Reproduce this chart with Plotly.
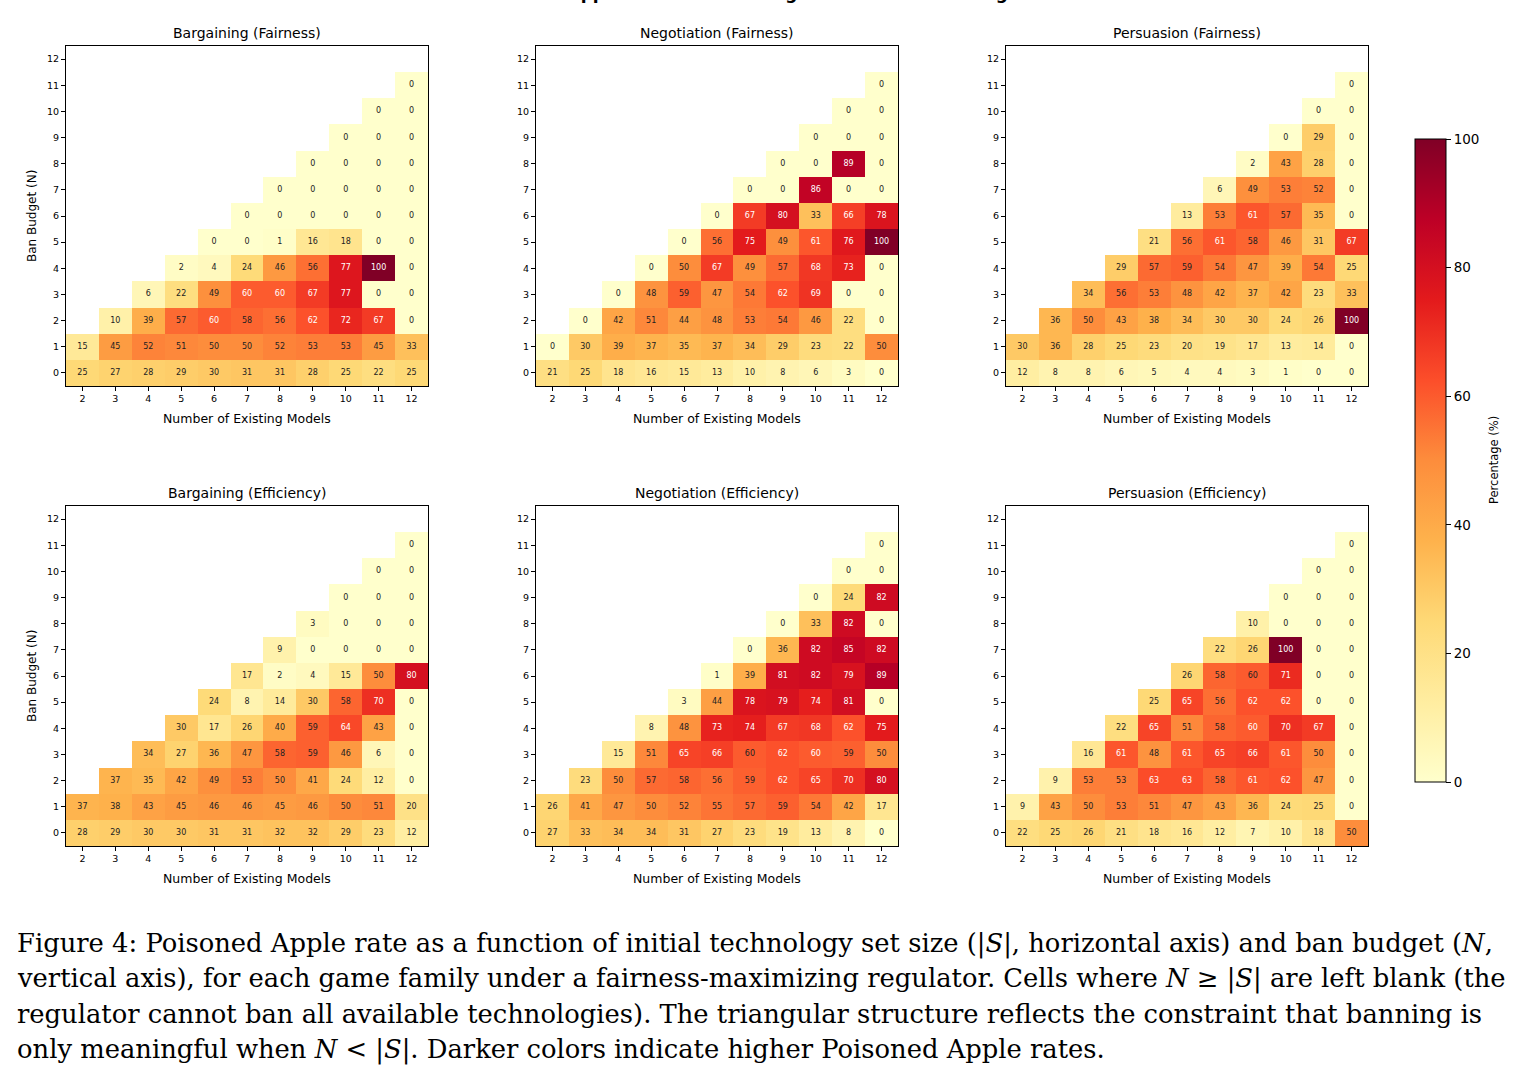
import plotly.graph_objects as go

W, H = 1527, 1079

# ---------------- data ----------------
X_MODELS = list(range(2, 13))      # Number of Existing Models
Y_BUDGET = list(range(0, 13))      # Ban Budget (N)

# each list = rows N = 0,1,2,...; a row N starts at |S| = max(2, N+1)
BARG_FAIR = [
    [25, 27, 28, 29, 30, 31, 31, 28, 25, 22, 25],
    [15, 45, 52, 51, 50, 50, 52, 53, 53, 45, 33],
    [10, 39, 57, 60, 58, 56, 62, 72, 67, 0],
    [6, 22, 49, 60, 60, 67, 77, 0, 0],
    [2, 4, 24, 46, 56, 77, 100, 0],
    [0, 0, 1, 16, 18, 0, 0],
    [0, 0, 0, 0, 0, 0],
    [0, 0, 0, 0, 0],
    [0, 0, 0, 0],
    [0, 0, 0],
    [0, 0],
    [0],
]
NEGO_FAIR = [
    [21, 25, 18, 16, 15, 13, 10, 8, 6, 3, 0],
    [0, 30, 39, 37, 35, 37, 34, 29, 23, 22, 50],
    [0, 42, 51, 44, 48, 53, 54, 46, 22, 0],
    [0, 48, 59, 47, 54, 62, 69, 0, 0],
    [0, 50, 67, 49, 57, 68, 73, 0],
    [0, 56, 75, 49, 61, 76, 100],
    [0, 67, 80, 33, 66, 78],
    [0, 0, 86, 0, 0],
    [0, 0, 89, 0],
    [0, 0, 0],
    [0, 0],
    [0],
]
PERS_FAIR = [
    [12, 8, 8, 6, 5, 4, 4, 3, 1, 0, 0],
    [30, 36, 28, 25, 23, 20, 19, 17, 13, 14, 0],
    [36, 50, 43, 38, 34, 30, 30, 24, 26, 100],
    [34, 56, 53, 48, 42, 37, 42, 23, 33],
    [29, 57, 59, 54, 47, 39, 54, 25],
    [21, 56, 61, 58, 46, 31, 67],
    [13, 53, 61, 57, 35, 0],
    [6, 49, 53, 52, 0],
    [2, 43, 28, 0],
    [0, 29, 0],
    [0, 0],
    [0],
]
BARG_EFF = [
    [28, 29, 30, 30, 31, 31, 32, 32, 29, 23, 12],
    [37, 38, 43, 45, 46, 46, 45, 46, 50, 51, 20],
    [37, 35, 42, 49, 53, 50, 41, 24, 12, 0],
    [34, 27, 36, 47, 58, 59, 46, 6, 0],
    [30, 17, 26, 40, 59, 64, 43, 0],
    [24, 8, 14, 30, 58, 70, 0],
    [17, 2, 4, 15, 50, 80],
    [9, 0, 0, 0, 0],
    [3, 0, 0, 0],
    [0, 0, 0],
    [0, 0],
    [0],
]
NEGO_EFF = [
    [27, 33, 34, 34, 31, 27, 23, 19, 13, 8, 0],
    [26, 41, 47, 50, 52, 55, 57, 59, 54, 42, 17],
    [23, 50, 57, 58, 56, 59, 62, 65, 70, 80],
    [15, 51, 65, 66, 60, 62, 60, 59, 50],
    [8, 48, 73, 74, 67, 68, 62, 75],
    [3, 44, 78, 79, 74, 81, 0],
    [1, 39, 81, 82, 79, 89],
    [0, 36, 82, 85, 82],
    [0, 33, 82, 0],
    [0, 24, 82],
    [0, 0],
    [0],
]
PERS_EFF = [
    [22, 25, 26, 21, 18, 16, 12, 7, 10, 18, 50],
    [9, 43, 50, 53, 51, 47, 43, 36, 24, 25, 0],
    [9, 53, 53, 63, 63, 58, 61, 62, 47, 0],
    [16, 61, 48, 61, 65, 66, 61, 50, 0],
    [22, 65, 51, 58, 60, 70, 67, 0],
    [25, 65, 56, 62, 62, 0, 0],
    [26, 58, 60, 71, 0, 0],
    [22, 26, 100, 0, 0],
    [10, 0, 0, 0],
    [0, 0, 0],
    [0, 0],
    [0],
]

PANEL_TITLES = ["Bargaining (Fairness)", "Negotiation (Fairness)", "Persuasion (Fairness)",
                "Bargaining (Efficiency)", "Negotiation (Efficiency)", "Persuasion (Efficiency)"]
PANEL_DATA = [BARG_FAIR, NEGO_FAIR, PERS_FAIR, BARG_EFF, NEGO_EFF, PERS_EFF]
# cells showing "60" whose label is dark (underlying value just below 60)
DARK_60 = [[], [], [], [], [(8, 3)], [(9, 6)]]

COLORBAR_TICKS = [0, 20, 40, 60, 80, 100]

YLORRD = [[0.0, "#ffffcc"], [0.125, "#ffeda0"], [0.25, "#fed976"], [0.375, "#feb24c"],
          [0.5, "#fd8d3c"], [0.625, "#fc4e2a"], [0.75, "#e31a1c"], [0.875, "#bd0026"],
          [1.0, "#800026"]]

FONT = "DejaVu Sans"


def to_grid(rows):
    z = [[None] * len(X_MODELS) for _ in Y_BUDGET]
    for n, row in enumerate(rows):
        start = max(2, n + 1)
        for k, v in enumerate(row):
            z[n][start - X_MODELS[0] + k] = v
    return z


fig = go.Figure()
annotations = []

for i, (title, rows) in enumerate(zip(PANEL_TITLES, PANEL_DATA)):
    r, c = divmod(i, 3)
    ax = "" if i == 0 else str(i + 1)
    z = to_grid(rows)
    fig.add_trace(go.Heatmap(
        z=z, x=X_MODELS, y=Y_BUDGET, colorscale=YLORRD, zmin=0, zmax=100,
        showscale=(i == 0), hoverongaps=False,
        xaxis="x" + ax, yaxis="y" + ax,
        colorbar=dict(
            x=1415 / W, xanchor="left", y=1 - 139 / H, yanchor="top",
            len=(782 - 139) / H, lenmode="fraction", thickness=31,
            outlinecolor="black", outlinewidth=1, xpad=0, ypad=0,
            tickvals=COLORBAR_TICKS, ticks="outside", ticklen=5, tickcolor="black",
            tickfont=dict(size=13.5, color="black", family=FONT),
        ),
    ))
    tx, ty, tt, tc = [], [], [], []
    for n in Y_BUDGET:
        for k, xv in enumerate(X_MODELS):
            v = z[n][k]
            if v is None:
                continue
            tx.append(xv)
            ty.append(n)
            tt.append(str(v))
            white = v >= 60 and (xv, n) not in DARK_60[i]
            tc.append("white" if white else "#222222")
    fig.add_trace(go.Scatter(
        x=tx, y=ty, text=tt, mode="text", textposition="middle center",
        textfont=dict(size=8, color=tc, family=FONT),
        hoverinfo="skip", showlegend=False, xaxis="x" + ax, yaxis="y" + ax,
    ))

    x0, x1 = (66 + 470 * c) / W, (428 + 470 * c) / W
    y0, y1 = 1 - (386 + 460 * r) / H, 1 - (46 + 460 * r) / H
    common = dict(ticks="outside", ticklen=4, tickwidth=1, tickcolor="black",
                  showline=True, linecolor="black", linewidth=1, mirror=True,
                  showgrid=False, zeroline=False,
                  tickfont=dict(size=9.5, color="black", family=FONT))
    fig.layout["xaxis" + ax] = dict(domain=[x0, x1], anchor="y" + ax,
                                    range=[1.5, 12.5], tickvals=X_MODELS, **common)
    fig.layout["yaxis" + ax] = dict(domain=[y0, y1], anchor="x" + ax,
                                    range=[-0.5, 12.5], tickvals=Y_BUDGET, **common)

    cx = (247 + 470 * c) / W
    annotations.append(dict(text=title, x=cx, y=1 - (33 + 460 * r) / H,
                            xref="paper", yref="paper", showarrow=False,
                            xanchor="center", yanchor="middle",
                            font=dict(size=14, color="black", family=FONT)))
    annotations.append(dict(text="Number of Existing Models", x=cx, y=1 - (418 + 460 * r) / H,
                            xref="paper", yref="paper", showarrow=False,
                            xanchor="center", yanchor="middle",
                            font=dict(size=12.5, color="black", family=FONT)))
    if c == 0:
        annotations.append(dict(text="Ban Budget (N)", x=32 / W, y=1 - (216 + 460 * r) / H,
                                xref="paper", yref="paper", showarrow=False, textangle=-90,
                                xanchor="center", yanchor="middle",
                                font=dict(size=12, color="black", family=FONT)))

annotations.append(dict(text="Percentage (%)", x=1494 / W, y=1 - 460 / H,
                        xref="paper", yref="paper", showarrow=False, textangle=-90,
                        xanchor="center", yanchor="middle",
                        font=dict(size=11.5, color="black", family=FONT)))

# suptitle (cut off at the top of the page)
annotations.append(dict(text="<b>Poisoned Apple Rate vs Ban Budget under Fairness Regulator</b>",
                        x=770 / W, y=1 - 5 / H, xref="paper", yref="paper", showarrow=False,
                        xanchor="center", yanchor="bottom",
                        font=dict(size=17, color="black", family=FONT)))

CAPTION = [
    "Figure 4: Poisoned Apple rate as a function of initial technology set size (|<i>S</i>|, horizontal axis) and ban budget (<i>N</i>,",
    "vertical axis), for each game family under a fairness-maximizing regulator. Cells where <i>N</i> ≥ |<i>S</i>| are left blank (the",
    "regulator cannot ban all available technologies). The triangular structure reflects the constraint that banning is",
    "only meaningful when <i>N</i> &lt; |<i>S</i>|. Darker colors indicate higher Poisoned Apple rates.",
]
for j, line in enumerate(CAPTION):
    annotations.append(dict(text=line, x=15 / W, y=1 - (943 + 35.5 * j) / H,
                            xref="paper", yref="paper", showarrow=False,
                            xanchor="left", yanchor="middle",
                            font=dict(size=25.8, color="black", family="DejaVu Serif")))

fig.update_layout(
    width=W, height=H, margin=dict(l=0, r=0, t=0, b=0),
    paper_bgcolor="white", plot_bgcolor="white",
    annotations=annotations, showlegend=False,
    font=dict(family=FONT, color="black"),
)

fig.write_html("out.html")
